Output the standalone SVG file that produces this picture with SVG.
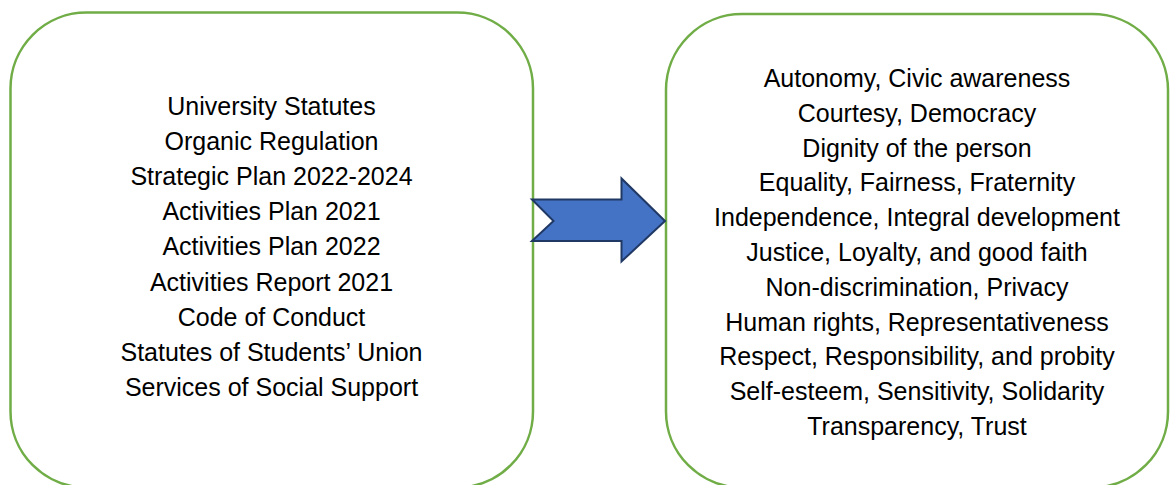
<svg xmlns="http://www.w3.org/2000/svg" width="1170" height="485" viewBox="0 0 1170 485">
<style>
.box{fill:#ffffff;stroke:#70AD47;stroke-width:2.5}
.t{font-family:"Liberation Sans",Arial,sans-serif;font-size:25px;fill:#000000;text-anchor:middle}
.arrow{fill:#4472C4;stroke:#203864;stroke-width:2;stroke-linejoin:miter}
</style>
<rect width="1170" height="485" fill="#ffffff"/>
<g id="sources">
<rect class="box" x="10.5" y="12.5" width="522.5" height="475" rx="76" ry="76"/>
<text class="t" x="271.5" y="115">University Statutes</text>
<text class="t" x="271.5" y="150.1">Organic Regulation</text>
<text class="t" x="271.5" y="185.2">Strategic Plan 2022-2024</text>
<text class="t" x="271.5" y="220.3">Activities Plan 2021</text>
<text class="t" x="271.5" y="255.4">Activities Plan 2022</text>
<text class="t" x="271.5" y="290.5">Activities Report 2021</text>
<text class="t" x="271.5" y="325.6">Code of Conduct</text>
<text class="t" x="271.5" y="360.7">Statutes of Students’ Union</text>
<text class="t" x="271.5" y="395.8">Services of Social Support</text>
</g>
<g id="values">
<rect class="box" x="666" y="14" width="502" height="473.5" rx="76" ry="76"/>
<text class="t" x="917" y="87">Autonomy, Civic awareness</text>
<text class="t" x="917" y="121.8">Courtesy, Democracy</text>
<text class="t" x="917" y="156.6">Dignity of the person</text>
<text class="t" x="917" y="191.4">Equality, Fairness, Fraternity</text>
<text class="t" x="917" y="226.2">Independence, Integral development</text>
<text class="t" x="917" y="261">Justice, Loyalty, and good faith</text>
<text class="t" x="917" y="295.8">Non-discrimination, Privacy</text>
<text class="t" x="917" y="330.6">Human rights, Representativeness</text>
<text class="t" x="917" y="365.4">Respect, Responsibility, and probity</text>
<text class="t" x="917" y="400.2">Self-esteem, Sensitivity, Solidarity</text>
<text class="t" x="917" y="435">Transparency, Trust</text>
</g>
<g id="connectors">
<polygon class="arrow" points="532,199.5 621.5,199.5 621.5,178.5 665,221 621.5,261.5 621.5,241 532,241 553.5,221"/>
</g>
</svg>
